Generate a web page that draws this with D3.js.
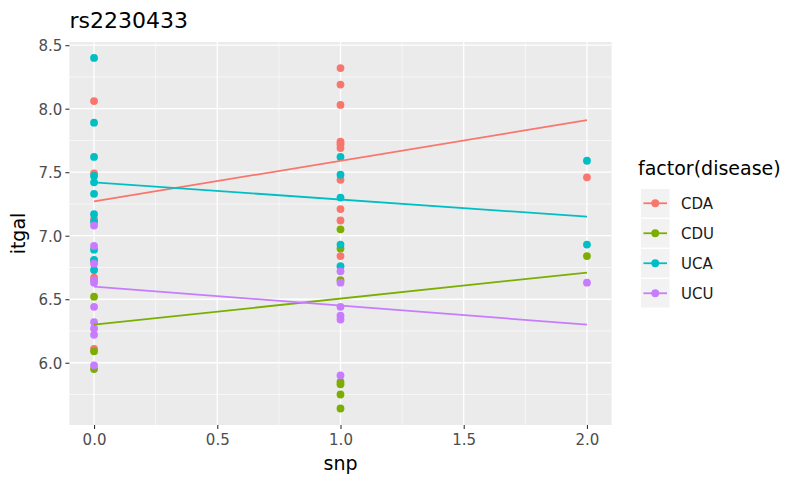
<!DOCTYPE html>
<html>
<head>
<meta charset="utf-8">
<script src="https://cdn.jsdelivr.net/npm/d3@7"></script>
<style>
  body { margin: 0; background: #fff; }
  svg text { font-family: "DejaVu Sans", sans-serif; }
</style>
</head>
<body>
<svg id="canvas" width="788" height="478"></svg>
<script>
// values
var groups = ['CDA', 'CDU', 'UCA', 'UCU']
var colors = ['#F8766D', '#7CAE00', '#00BFC4', '#C77CFF']

var cdaX = [0, 0, 0, 0, 0, 0, 1, 1, 1, 1, 1, 1, 1, 1, 1, 1, 2]
var cdaY = [8.06, 7.49, 7.13, 6.80, 6.67, 6.11, 8.32, 8.19, 8.03, 7.74, 7.72, 7.69, 7.44, 7.21, 7.12, 6.84, 7.46]
var cduX = [0, 0, 0, 1, 1, 1, 1, 1, 1, 1, 2]
var cduY = [6.52, 6.09, 5.95, 7.05, 6.90, 6.65, 5.85, 5.83, 5.75, 5.64, 6.84]
var ucaX = [0, 0, 0, 0, 0, 0, 0, 0, 0, 0, 0, 1, 1, 1, 1, 1, 2, 2]
var ucaY = [8.40, 7.89, 7.62, 7.47, 7.42, 7.33, 7.17, 7.11, 6.89, 6.81, 6.73, 7.62, 7.48, 7.30, 6.93, 6.76, 7.59, 6.93]
var ucuX = [0, 0, 0, 0, 0, 0, 0, 0, 0, 0, 1, 1, 1, 1, 1, 1, 2]
var ucuY = [7.08, 6.92, 6.78, 6.65, 6.63, 6.44, 6.32, 6.27, 6.22, 5.98, 6.72, 6.63, 6.44, 6.37, 6.34, 5.90, 6.63]

// lm fit lines (value at snp = 0 and snp = 2)
var fitStart = [7.27, 6.30, 7.42, 6.60]
var fitEnd = [7.91, 6.71, 7.15, 6.30]

var xTicks = [0, 0.5, 1, 1.5, 2]
var xMinor = [0.25, 0.75, 1.25, 1.75]
var yTicks = [6.0, 6.5, 7.0, 7.5, 8.0, 8.5]
var yMinor = [5.75, 6.25, 6.75, 7.25, 7.75, 8.25]

var xs = [cdaX, cduX, ucaX, ucuX]
var ys = [cdaY, cduY, ucaY, ucuY]

var points = []
groups.forEach(function(g, i) {
  xs[i].forEach(function(x, j) {
    points.push({group: g, gi: i, x: x, y: ys[i][j]})
  })
})

// panel edges
var pLeft = 69.4, pRight = 611.6, pTop = 42, pBottom = 425

var x = d3.scaleLinear().domain([-0.1, 2.1]).range([pLeft, pRight])
var y = d3.scaleLinear().domain([5.51, 8.525]).range([pBottom, pTop])

var svg = d3.select('#canvas')

svg.append('rect')
  .attr('x', pLeft).attr('y', pTop)
  .attr('width', pRight - pLeft).attr('height', pBottom - pTop)
  .attr('fill', '#EBEBEB')

// grid
var grid = svg.append('g')
grid.selectAll('.xminor').data(xMinor).enter().append('line')
  .attr('x1', function(d) { return x(d) }).attr('x2', function(d) { return x(d) })
  .attr('y1', pTop).attr('y2', pBottom)
  .attr('stroke', '#fff').attr('stroke-width', 0.6)
grid.selectAll('.yminor').data(yMinor).enter().append('line')
  .attr('y1', function(d) { return y(d) }).attr('y2', function(d) { return y(d) })
  .attr('x1', pLeft).attr('x2', pRight)
  .attr('stroke', '#fff').attr('stroke-width', 0.6)
grid.selectAll('.xmajor').data(xTicks).enter().append('line')
  .attr('x1', function(d) { return x(d) }).attr('x2', function(d) { return x(d) })
  .attr('y1', pTop).attr('y2', pBottom)
  .attr('stroke', '#fff').attr('stroke-width', 1.3)
grid.selectAll('.ymajor').data(yTicks).enter().append('line')
  .attr('y1', function(d) { return y(d) }).attr('y2', function(d) { return y(d) })
  .attr('x1', pLeft).attr('x2', pRight)
  .attr('stroke', '#fff').attr('stroke-width', 1.3)

// points
svg.append('g').selectAll('circle')
  .data(points)
  .enter()
  .append('circle')
  .attr('cx', function(d) { return x(d.x) })
  .attr('cy', function(d) { return y(d.y) })
  .attr('r', 3.9)
  .attr('fill', function(d) { return colors[d.gi] })

// fitted lines
svg.append('g').selectAll('line')
  .data(groups)
  .enter()
  .append('line')
  .attr('x1', x(0)).attr('x2', x(2))
  .attr('y1', function(d, i) { return y(fitStart[i]) })
  .attr('y2', function(d, i) { return y(fitEnd[i]) })
  .attr('stroke', function(d, i) { return colors[i] })
  .attr('stroke-width', 1.8)

// axes
var xAxis = svg.append('g')
  .attr('transform', 'translate(0,' + pBottom + ')')
  .call(d3.axisBottom(x).tickValues(xTicks).tickFormat(d3.format('.1f')).tickSize(4).tickPadding(3))
var yAxis = svg.append('g')
  .attr('transform', 'translate(' + pLeft + ',0)')
  .call(d3.axisLeft(y).tickValues(yTicks).tickFormat(d3.format('.1f')).tickSize(4).tickPadding(3))

;[xAxis, yAxis].forEach(function(a) {
  a.select('.domain').remove()
  a.selectAll('line').attr('stroke', '#333').attr('stroke-width', 1.1)
  a.selectAll('text').attr('fill', '#4D4D4D').style('font-size', '15px')
})
xAxis.selectAll('text').attr('dy', null).attr('y', 20)
yAxis.selectAll('text').attr('dy', '0.36em')

svg.append('text')
  .attr('x', (pLeft + pRight) / 2).attr('y', 470)
  .attr('text-anchor', 'middle')
  .style('font-size', '19px')
  .text('snp')

svg.append('text')
  .attr('transform', 'translate(25,' + ((pTop + pBottom) / 2) + ') rotate(-90)')
  .attr('text-anchor', 'middle')
  .style('font-size', '19px')
  .text('itgal')

svg.append('text')
  .attr('x', pLeft).attr('y', 28)
  .style('font-size', '22px')
  .text('rs2230433')

// legend
var legend = svg.append('g').attr('transform', 'translate(641,189)')
legend.append('text')
  .attr('x', -3).attr('y', -14)
  .style('font-size', '19px')
  .text('factor(disease)')

var keys = legend.selectAll('.key')
  .data(groups)
  .enter()
  .append('g')
  .attr('transform', function(d, i) { return 'translate(0,' + (i * 30) + ')' })

keys.append('rect')
  .attr('width', 28.5).attr('height', 28.5)
  .attr('fill', '#F2F2F2')
keys.append('line')
  .attr('x1', 2.5).attr('x2', 26)
  .attr('y1', 14.25).attr('y2', 14.25)
  .attr('stroke', function(d, i) { return colors[i] })
  .attr('stroke-width', 1.8)
keys.append('circle')
  .attr('cx', 14.25).attr('cy', 14.25).attr('r', 3.9)
  .attr('fill', function(d, i) { return colors[i] })
keys.append('text')
  .attr('x', 40).attr('y', 14.25)
  .attr('dy', '0.36em')
  .attr('fill', '#1a1a1a')
  .style('font-size', '15px')
  .text(function(d) { return d })
</script>
</body>
</html>
